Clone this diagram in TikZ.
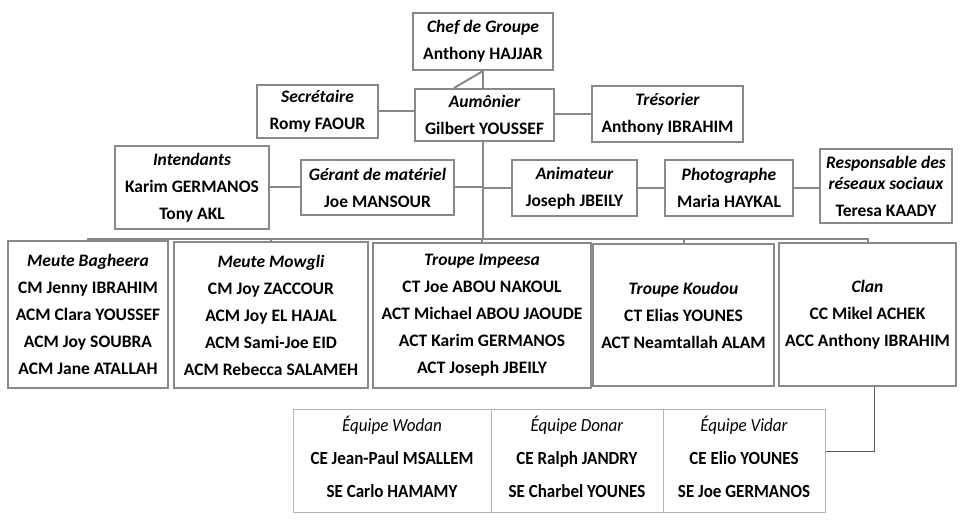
\documentclass[tikz,border=0pt]{standalone}
\usepackage{fontspec}
\setmainfont{Carlito}
\newfontfamily\teamfont[FakeStretch=0.92]{Carlito}
\definecolor{boxgray}{RGB}{137,137,137}
\definecolor{tabgray}{RGB}{180,180,180}
\definecolor{thinline}{RGB}{90,90,90}
\newcommand\roletitle[1]{{\itshape #1}}
\tikzset{
  rolebox/.style={draw=boxgray, line width=2pt, inner sep=0pt, align=center,
    font=\fontsize{17.5}{27}\selectfont\bfseries, text=black},
  teambox/.style={draw=tabgray, line width=1pt, inner sep=0pt, align=center,
    font=\teamfont\fontsize{18.5}{33}\selectfont\bfseries, text=black, text depth=8pt},
  link/.style={draw=boxgray, line width=2pt},
}
\begin{document}
\begin{tikzpicture}[x=1pt,y=-1pt]
\useasboundingbox (0,0) rectangle (962,524);
% top tier
\node[rolebox, minimum width=140pt, minimum height=57pt] (chef) at (483,41.5) {\roletitle{Chef de Groupe}\\Anthony HAJJAR};
\node[rolebox, minimum width=121pt, minimum height=53pt] (sec) at (317.5,111.5) {\roletitle{Secrétaire}\\Romy FAOUR};
\node[rolebox, minimum width=139pt, minimum height=52pt] (aum) at (484.5,115) {\roletitle{Aumônier}\\Gilbert YOUSSEF};
\node[rolebox, minimum width=151pt, minimum height=56pt] (tres) at (667.5,114) {\roletitle{Trésorier}\\Anthony IBRAHIM};
% second tier
\node[rolebox, minimum width=154pt, minimum height=83pt] (int) at (192,187.5) {\roletitle{Intendants}\\Karim GERMANOS\\Tony AKL};
\node[rolebox, minimum width=153pt, minimum height=55pt] (ger) at (377.5,187.5) {\roletitle{Gérant de matériel}\\Joe MANSOUR};
\node[rolebox, minimum width=125pt, minimum height=56pt] (ani) at (574.5,188) {\roletitle{Animateur}\\Joseph JBEILY};
\node[rolebox, minimum width=128pt, minimum height=56pt] (pho) at (729,188) {\roletitle{Photographe}\\Maria HAYKAL};
\node[rolebox, minimum width=132pt, minimum height=74pt] (res) at (886,186) {\roletitle{Responsable des}\\[-6pt]\roletitle{réseaux sociaux}\\Teresa KAADY};
% units
\node[rolebox, minimum width=160pt, minimum height=147pt] (bag) at (88,314.5) {\roletitle{Meute Bagheera}\\CM Jenny IBRAHIM\\ACM Clara YOUSSEF\\ACM Joy SOUBRA\\ACM Jane ATALLAH};
\node[rolebox, minimum width=194pt, minimum height=146pt] (mow) at (271,315) {\roletitle{Meute Mowgli}\\CM Joy ZACCOUR\\ACM Joy EL HAJAL\\ACM Sami-Joe EID\\ACM Rebecca SALAMEH};
\node[rolebox, minimum width=218pt, minimum height=145pt] (imp) at (482,315.5) {\roletitle{Troupe Impeesa}\\CT Joe ABOU NAKOUL\\ACT Michael ABOU JAOUDE\\ACT Karim GERMANOS\\ACT Joseph JBEILY};
\node[rolebox, minimum width=181pt, minimum height=142pt] (kou) at (683.5,315) {\roletitle{Troupe Koudou}\\CT Elias YOUNES\\ACT Neamtallah ALAM};
\node[rolebox, minimum width=177pt, minimum height=143pt] (clan) at (867.5,314.5) {\roletitle{Clan}\\CC Mikel ACHEK\\ACC Anthony IBRAHIM};
% teams
\node[teambox, minimum width=198pt, minimum height=103pt] (wod) at (392,460.5) {{\mdseries\itshape Équipe Wodan}\\CE Jean-Paul MSALLEM\\SE Carlo HAMAMY};
\node[teambox, minimum width=172pt, minimum height=103pt] (don) at (577,460.5) {{\mdseries\itshape Équipe Donar}\\CE Ralph JANDRY\\SE Charbel YOUNES};
\node[teambox, minimum width=162pt, minimum height=103pt] (vid) at (744,460.5) {{\mdseries\itshape Équipe Vidar}\\CE Elio YOUNES\\SE Joe GERMANOS};
% connectors
\coordinate (bus) at (483,239);
\path[link] (chef.south) -- (chef.south |- aum.north);
\path[link] (chef.south) -- ([xshift=-30.5pt]aum.north);
\path[link] (sec.east) -- (sec.east -| aum.west);
\path[link] (tres.west) -- (tres.west -| aum.east);
\path[link] (chef.south |- aum.south) -- (bus);
\path[link] (int.east) -- (ger.west);
\path[link] (ger.east) -- (ger.east -| bus);
\path[link] (bus |- ani.west) -- (ani.west);
\path[link] (ani.east) -- (pho.west);
\path[link] (pho.east) -- (pho.east -| res.west);
\foreach \u in {bag,mow,imp,kou,clan}{\path[link] (bus) -| (\u.north);}
\draw[thinline, line width=1pt] ([xshift=6.5pt]clan.south) |- ([yshift=9.5pt]vid.east);
\end{tikzpicture}
\end{document}
